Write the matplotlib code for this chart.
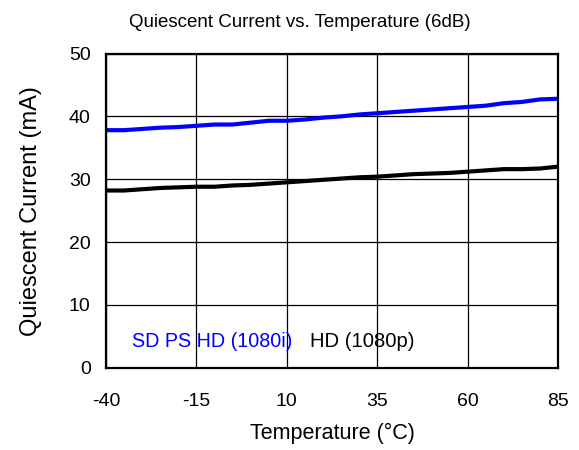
import matplotlib
matplotlib.use("Agg")
import matplotlib.pyplot as plt
import numpy as np

plt.rcParams['font.family'] = ['Liberation Sans', 'DejaVu Sans']
plt.rcParams['axes.unicode_minus'] = False

# temperature (°C)
temp = np.arange(-40, 90, 5)

# quiescent current (mA)
sd_ps_hd_1080i = [37.8, 37.8, 38.0, 38.2, 38.3, 38.5, 38.7, 38.7, 39.0, 39.3,
                  39.3, 39.5, 39.8, 40.0, 40.3, 40.5, 40.7, 40.9, 41.1, 41.3,
                  41.5, 41.7, 42.1, 42.3, 42.7, 42.8]
hd_1080p = [28.2, 28.2, 28.4, 28.6, 28.7, 28.8, 28.8, 29.0, 29.1, 29.3,
            29.5, 29.7, 29.9, 30.1, 30.3, 30.4, 30.6, 30.8, 30.9, 31.0,
            31.2, 31.4, 31.6, 31.6, 31.7, 32.0]

xticks = [-40, -15, 10, 35, 60, 85]
yticks = [0, 10, 20, 30, 40, 50]

fig = plt.figure(figsize=(5.79, 4.5), dpi=100)
ax = fig.add_axes([0.183, 0.183, 0.781, 0.698])

ax.plot(temp, sd_ps_hd_1080i, color='#0000ff', lw=3)
ax.plot(temp, hd_1080p, color='black', lw=3)

ax.set_xlim(-40, 85)
ax.set_ylim(0, 50)
ax.set_xticks(xticks)
ax.set_yticks(yticks)
ax.tick_params(length=0, labelsize=14)
ax.tick_params(axis='x', pad=18)
ax.tick_params(axis='y', pad=11)
ax.grid(True, color='black', lw=0.9)
for s in ax.spines.values():
    s.set_linewidth(1.6)

fig.text(0.518, 0.951, 'Quiescent Current vs. Temperature (6dB)',
         fontsize=13.5, ha='center', va='center')
ax.set_xlabel('Temperature (°C)', fontsize=15.5)
ax.xaxis.set_label_coords(0.5, -0.175)
ax.set_ylabel('Quiescent Current (mA)', fontsize=17)
ax.yaxis.set_label_coords(-0.142, 0.498)

ax.text(0.057, 0.082, 'SD PS HD (1080i)', color='#0000ff', fontsize=14.2,
        transform=ax.transAxes, va='center')
ax.text(0.451, 0.082, 'HD (1080p)', color='black', fontsize=14.6,
        transform=ax.transAxes, va='center')

fig.savefig('out.png', dpi=100)
